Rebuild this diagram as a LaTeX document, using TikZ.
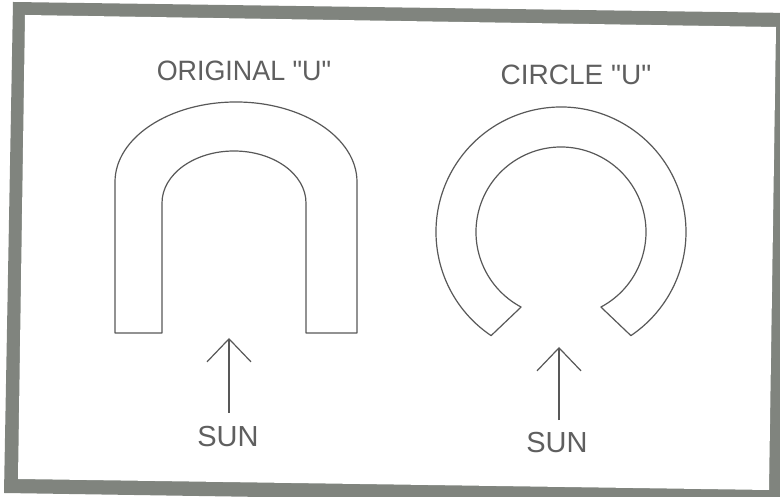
\documentclass[tikz,border=0pt]{standalone}
\usepackage{fontspec}
\setmainfont{Liberation Sans}
\usetikzlibrary{arrows.meta,calc}
\definecolor{frameC}{RGB}{128,132,126}
\definecolor{lineC}{RGB}{88,88,88}
\definecolor{textC}{RGB}{95,95,95}
\newcommand{\dq}{\XeTeXglyph\numexpr\XeTeXcharglyph"22\relax}
\tikzset{
  shapeline/.style={draw=lineC, line width=1.2pt, line join=round},
  title/.style={text=textC, inner sep=0pt, font=\fontsize{28}{30}\selectfont},
  sunlabel/.style={text=textC, inner sep=0pt, font=\fontsize{29}{31}\selectfont},
  sunarrow/.style={draw=lineC, line width=1.2pt, -{Straight Barb[length=23pt,width=44pt]}}
}
\begin{document}
\begin{tikzpicture}[x=1pt,y=1pt]
\useasboundingbox (0,0) rectangle (780,497);
\clip (0,0) rectangle (780,497);
\fill[white] (0,0) rectangle (780,497);
% frame
\fill[frameC] (13,495) -- (790,484) -- (782,-8) -- (4,4) -- cycle;
\fill[white] (25,482) -- (776,470) -- (769,7) -- (18,18) -- cycle;

% titles
\node[title, xscale=0.96] (t1) at (244,426) {ORIGINAL \dq U\dq};
\node[title] (t2) at (576,422) {CIRCLE \dq U\dq};

% original U
\draw[shapeline] (115,164) -- (115,315)
  arc[start angle=180, end angle=0, x radius=121, y radius=80]
  -- (357,164) -- (306,164) -- (306,294)
  arc[start angle=0, end angle=180, x radius=72, y radius=52]
  -- (162,164) -- cycle;

% circle U
\coordinate (cc) at (561,265);
\draw[shapeline] ($(cc)+(236:125)$)
  arc[start angle=236, end angle=-56, radius=125]
  -- ($(cc)+(-62:85)$)
  arc[start angle=-62, end angle=242, radius=85]
  -- cycle;

% sun labels and arrows
\node[sunlabel] (sunL) at (228,60) {SUN};
\node[sunlabel] (sunR) at (557,54.5) {SUN};
\coordinate (tipL) at (229,159);
\coordinate (tipR) at (559,150);
\draw[sunarrow, shorten <=14pt] (sunL.north -| tipL) -- (tipL);
\draw[sunarrow, shorten <=12pt] (sunR.north -| tipR) -- (tipR);
\end{tikzpicture}
\end{document}
